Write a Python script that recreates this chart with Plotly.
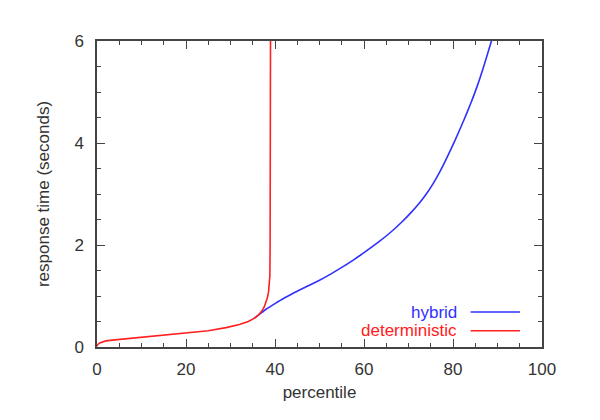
import plotly.graph_objects as go

# deterministic (red)
det_p = [0, 0.2, 0.6, 1.2, 2, 4, 7, 10, 15, 20, 25, 29, 32, 34, 35.3, 36.3, 37.0, 37.6, 38.0, 38.3, 38.55, 38.75, 38.85, 38.9, 38.95, 39.0]
det_v = [0.02, 0.05, 0.08, 0.10, 0.12, 0.14, 0.165, 0.19, 0.23, 0.27, 0.32, 0.38, 0.44, 0.50, 0.56, 0.63, 0.70, 0.79, 0.88, 0.97, 1.08, 1.22, 1.40, 2.0, 4.0, 6.5]

# hybrid (blue)
hyb_p = [35.3, 36.5, 38, 40, 42, 44, 47, 50, 52.5, 55, 57.5, 60, 63, 66, 68.5, 70.5, 72.5, 74, 75.5, 77, 78.5, 80.5, 82.5, 84, 85.5, 87, 88.5, 89]
hyb_v = [0.56, 0.64, 0.74, 0.85, 0.955, 1.05, 1.18, 1.31, 1.43, 1.56, 1.70, 1.85, 2.04, 2.25, 2.45, 2.63, 2.83, 3.00, 3.20, 3.43, 3.69, 4.06, 4.46, 4.78, 5.13, 5.53, 5.96, 6.1]

x_ticks = [0, 20, 40, 60, 80, 100]
y_ticks = [0, 2, 4, 6]

FONT = "Liberation Sans, Arial, sans-serif"
TXT = "#333333"
AX = "#444444"
BLUE = "#3030ff"
RED = "#ff2020"

fig = go.Figure()
fig.add_trace(go.Scatter(x=hyb_p, y=hyb_v, mode="lines", name="hybrid",
                         line=dict(color=BLUE, width=1.6, shape="spline", smoothing=0.5), showlegend=False))
fig.add_trace(go.Scatter(x=det_p, y=det_v, mode="lines", name="deterministic",
                         line=dict(color=RED, width=1.6), showlegend=False))

axis_common = dict(showgrid=False, zeroline=False, showline=True, linecolor=AX, linewidth=1.5,
                   mirror="ticks", ticks="inside", ticklen=8, tickwidth=1.3, tickcolor=AX,
                   tickfont=dict(family=FONT, size=17, color=TXT))

fig.update_xaxes(range=[0, 100], tickvals=x_ticks, **axis_common, ticklabelstandoff=6,
                 minor=dict(ticks="inside", dtick=5, ticklen=4.5, tickwidth=1.2, tickcolor=AX),
                 title=dict(text="percentile", font=dict(family=FONT, size=17, color=TXT), standoff=8))
fig.update_yaxes(range=[0, 6], tickvals=y_ticks, **axis_common, ticklabelstandoff=8,
                 minor=dict(ticks="inside", dtick=0.5, ticklen=4.5, tickwidth=1.2, tickcolor=AX),
                 title=dict(text="response time (seconds)", font=dict(family=FONT, size=17, color=TXT), standoff=20))

legend_items = [("hybrid", BLUE, 0.1143), ("deterministic", RED, 0.0532)]
for name, col, yy in legend_items:
    fig.add_annotation(xref="paper", yref="paper", x=0.8135, y=yy, text=name, showarrow=False,
                       xanchor="right", yanchor="middle", font=dict(family=FONT, size=17, color=col))
    fig.add_shape(type="line", xref="paper", yref="paper", x0=0.8396, x1=0.9506, y0=yy, y1=yy,
                  line=dict(color=col, width=1.6))

fig.update_layout(width=600, height=420, margin=dict(l=97, r=58, t=41, b=73),
                  plot_bgcolor="white", paper_bgcolor="white",
                  font=dict(family=FONT, color=TXT))

fig.write_html("out.html")
